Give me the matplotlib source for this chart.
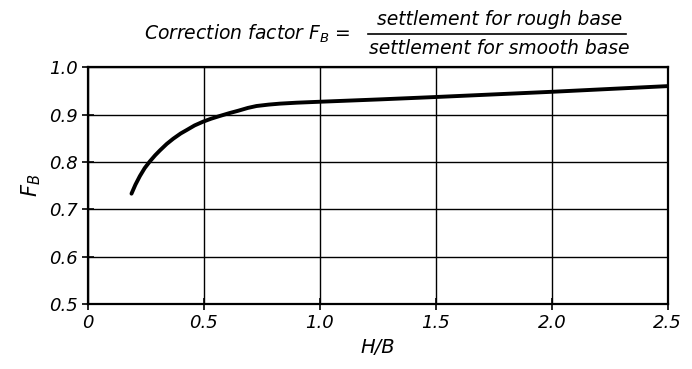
import numpy as np
import matplotlib
matplotlib.use("Agg")
import matplotlib.pyplot as plt

# Curve values
h_over_b = [0.188, 0.205, 0.224, 0.245, 0.267, 0.29, 0.31, 0.34, 0.368, 0.40, 0.425, 0.46, 0.497,
            0.53, 0.569, 0.61, 0.648, 0.69, 0.727, 0.78, 0.828, 0.90, 1.00, 1.26, 1.50, 2.00, 2.50]
f_b = [0.733, 0.752, 0.770, 0.787, 0.801, 0.814, 0.824, 0.838, 0.849, 0.860, 0.867, 0.877, 0.885,
       0.891, 0.897, 0.903, 0.908, 0.914, 0.918, 0.921, 0.923, 0.925, 0.927, 0.932, 0.937, 0.948, 0.960]

x_ticks = [0, 0.5, 1.0, 1.5, 2.0, 2.5]
x_labels = ["0", "0.5", "1.0", "1.5", "2.0", "2.5"]
y_ticks = [0.5, 0.6, 0.7, 0.8, 0.9, 1.0]
y_labels = ["0.5", "0.6", "0.7", "0.8", "0.9", "1.0"]

plt.rcParams['font.family'] = ['DejaVu Sans']
plt.rcParams['font.style'] = 'italic'

fig = plt.figure(figsize=(6.92, 3.69), dpi=100)
ax = fig.add_axes([0.127, 0.176, 0.838, 0.642])

ax.plot(h_over_b, f_b, color='black', lw=2.8, solid_capstyle='round', solid_joinstyle='round')

ax.set_xlim(0, 2.5)
ax.set_ylim(0.5, 1.0)
ax.set_xticks(x_ticks)
ax.set_xticklabels(x_labels, fontsize=13, style='italic')
ax.set_yticks(y_ticks)
ax.set_yticklabels(y_labels, fontsize=13, style='italic')
ax.tick_params(direction='inout', length=8, width=1.2, colors='black')
ax.grid(True, color='black', lw=1.0)
for s in ax.spines.values():
    s.set_linewidth(1.6)
    s.set_color('black')

ax.set_xlabel("H/B", fontsize=14, style='italic', labelpad=4)
ax.set_ylabel(r"$F_B$", fontsize=15, labelpad=4)

# Title with fraction
fig.text(0.507, 0.908, r"Correction factor $F_B$ =", fontsize=13.5, style='italic',
         ha='right', va='center')
fig.text(0.722, 0.948, "settlement for rough base", fontsize=13.5, style='italic',
         ha='center', va='center')
fig.text(0.722, 0.868, "settlement for smooth base", fontsize=13.5, style='italic',
         ha='center', va='center')
fig.add_artist(plt.Line2D([0.532, 0.905], [0.908, 0.908], color='black', lw=1.2,
                          transform=fig.transFigure))

fig.savefig("out.png", dpi=100)
